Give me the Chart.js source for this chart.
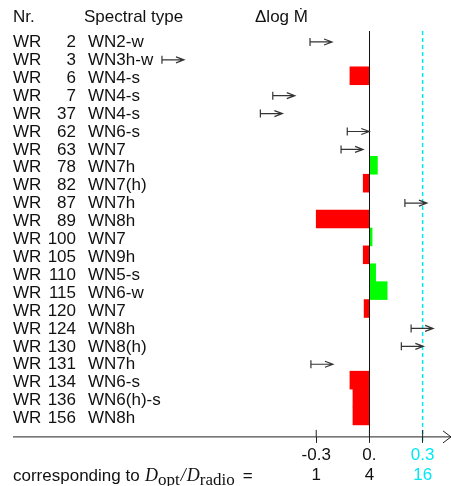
<!DOCTYPE html>
<html>
<head>
<meta charset="utf-8">
<script src="https://cdn.jsdelivr.net/npm/chart.js@4.4.1/dist/chart.umd.min.js"></script>
<style>
  body { margin: 0; background: #fff; }
  #wrap { width: 451px; height: 486px; }
</style>
</head>
<body>
<div id="wrap"><canvas id="mdotChart"></canvas></div>
<script>
// WR star numbers and spectral types, top to bottom
var starNumbers = ['2', '3', '6', '7', '37', '62', '63', '78', '82', '87', '89',
    '100', '105', '110', '115', '120', '124', '130', '131', '134', '136', '156'];
var spectralTypes = ['WN2-w', 'WN3h-w', 'WN4-s', 'WN4-s', 'WN4-s', 'WN6-s', 'WN7', 'WN7h', 'WN7(h)', 'WN7h', 'WN8h',
    'WN7', 'WN9h', 'WN5-s', 'WN6-w', 'WN7', 'WN8h', 'WN8(h)', 'WN7h', 'WN6-s', 'WN6(h)-s', 'WN8h'];
// delta log Mdot for stars with a measured value (null = lower limit only)
var deltaLogMdot = [null, null, -0.11, null, null, null, null, 0.045, -0.035, null, -0.30,
    0.015, -0.035, 0.035, 0.10, -0.03, null, null, null, -0.11, -0.093, -0.093];
// lower limits (start of the arrow)
var lowerLimits = [-0.335, -1.17, null, -0.545, -0.615, -0.125, -0.16, null, null, 0.20, null,
    null, null, null, null, null, 0.235, 0.18, -0.33, null, null, null];
var xTickValues = [-0.3, 0, 0.3];
var xTickLabels = ['-0.3', '0.', '0.3'];
var ratioLabels = ['1', '4', '16'];

var FONT = '"Liberation Sans", Arial, Helvetica, sans-serif';
var SERIF = '"Liberation Serif", "Times New Roman", serif';
var CYAN = '#00e8f4';
var INK = '#111';

document.addEventListener('DOMContentLoaded', function() {
    var ctx = document.getElementById('mdotChart').getContext('2d');

    var barPoints = [];
    deltaLogMdot.forEach(function(v, i) {
        if (v !== null) barPoints.push({ x: v, y: i });
    });

    var annotate = {
        id: 'annotate',
        beforeDatasetsDraw: function(chart) {
            var c = chart.ctx, area = chart.chartArea, x = chart.scales.x;
            var cx = x.getPixelForValue(xTickValues[2]);
            c.save();
            c.strokeStyle = CYAN;
            c.lineWidth = 1.5;
            c.setLineDash([4, 3]);
            c.beginPath();
            c.moveTo(cx, area.top);
            c.lineTo(cx, area.bottom + 6);
            c.stroke();
            c.restore();
        },
        afterDraw: function(chart) {
            var c = chart.ctx, area = chart.chartArea;
            var x = chart.scales.x, y = chart.scales.y;
            c.save();

            // row labels
            c.fillStyle = INK;
            c.font = '17px ' + FONT;
            c.textBaseline = 'middle';
            starNumbers.forEach(function(nr, i) {
                var py = y.getPixelForValue(i) + 2.5;
                c.textAlign = 'left';
                c.fillText('WR', 13, py);
                c.textAlign = 'right';
                c.fillText(nr, 76, py);
                c.textAlign = 'left';
                c.fillText(spectralTypes[i], 88, py);
            });

            // header
            c.fillText('Nr.', 13, 17);
            c.fillText('Spectral type', 84, 17);
            c.fillText('\u0394log \u1E40', 255, 17);

            // lower limit arrows
            c.strokeStyle = '#333';
            c.lineWidth = 1.2;
            lowerLimits.forEach(function(v, i) {
                if (v === null) return;
                var x1 = x.getPixelForValue(v), x2 = x1 + 22;
                var py = y.getPixelForValue(i) + 2;
                c.beginPath();
                c.moveTo(x1, py - 4); c.lineTo(x1, py + 4);
                c.moveTo(x1, py); c.lineTo(x2, py);
                c.moveTo(x2 - 8, py - 3); c.lineTo(x2, py); c.lineTo(x2 - 8, py + 3);
                c.stroke();
            });

            // axis line, tick marks crossing it, and the arrow at its end
            var ay = area.bottom;
            c.strokeStyle = '#222';
            c.lineWidth = 1;
            c.beginPath(); c.moveTo(area.left, ay); c.lineTo(area.right, ay); c.stroke();
            xTickValues.forEach(function(v) {
                var px = x.getPixelForValue(v);
                c.beginPath(); c.moveTo(px, ay - 7); c.lineTo(px, ay); c.stroke();
            });
            c.beginPath();
            c.moveTo(area.right - 8, ay - 6); c.lineTo(area.right, ay); c.lineTo(area.right - 8, ay + 6);
            c.stroke();

            // "corresponding to D_opt/D_radio ="
            var by = 481;
            c.textBaseline = 'alphabetic';
            c.textAlign = 'left';
            c.font = '17px ' + FONT;
            c.fillText('corresponding to', 13, by);
            var parts = [
                ['italic 18px ' + SERIF, 'D', 0, 145],
                ['17px ' + SERIF, 'opt', 4, 0],
                ['italic 18px ' + SERIF, '/', 0, 1],
                ['italic 18px ' + SERIF, 'D', 0, 1],
                ['17px ' + SERIF, 'radio', 4, 0],
                ['17px ' + FONT, '=', 0, 8]
            ];
            var px = 0;
            parts.forEach(function(p) {
                c.font = p[0];
                px = (p[3] > 20 ? p[3] : px + p[3]);
                c.fillText(p[1], px, by + p[2]);
                px += c.measureText(p[1]).width;
            });
            c.restore();
        }
    };

    var chart = new Chart(ctx, {
        type: 'bar',
        data: {
            datasets: [{
                data: barPoints,
                backgroundColor: function(c) {
                    return c.raw && c.raw.x < 0 ? '#ff0000' : '#00ff00';
                },
                borderWidth: 0,
                barPercentage: 1,
                categoryPercentage: 1
            }]
        },
        options: {
            indexAxis: 'y',
            responsive: true,
            maintainAspectRatio: false,
            animation: false,
            layout: { padding: { left: 13, right: 0, top: 31, bottom: -2 } },
            plugins: { legend: { display: false }, tooltip: { enabled: false } },
            scales: {
                y: {
                    type: 'linear',
                    display: false,
                    reverse: true,
                    bounds: 'data',
                    offset: false,
                    min: -0.5,
                    max: 22.17,
                    afterBuildTicks: function(scale) {
                        scale.ticks = starNumbers.map(function(s, i) { return { value: i }; });
                    }
                },
                x: {
                    type: 'linear',
                    min: -2.01,
                    max: 0.46,
                    afterBuildTicks: function(scale) {
                        scale.ticks = xTickValues.map(function(v) { return { value: v }; });
                    },
                    border: { display: false },
                    grid: {
                        z: 1,
                        color: function(c) { return c.tick && c.tick.value === 0 ? '#111' : 'rgba(0,0,0,0)'; },
                        tickColor: '#222',
                        tickLength: 6
                    },
                    ticks: {
                        autoSkip: false,
                        maxRotation: 0,
                        padding: 3,
                        font: { family: FONT, size: 17, lineHeight: 1.15 },
                        color: function(c) { return c.index === 2 ? CYAN : INK; },
                        callback: function(value, index) {
                            return [xTickLabels[index], ratioLabels[index]];
                        }
                    }
                }
            }
        },
        plugins: [annotate]
    });
});
</script>
</body>
</html>
